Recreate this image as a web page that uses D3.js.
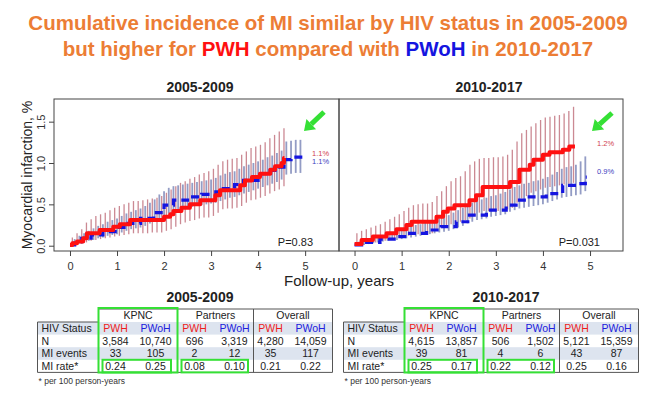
<!DOCTYPE html>
<html>
<head>
<meta charset="utf-8">
<script src="https://cdn.jsdelivr.net/npm/d3@7"></script>
<style>
  body { margin: 0; background: #fff; }
  svg { display: block; font-family: "Liberation Sans", Arial, sans-serif; }
</style>
</head>
<body>
<div id="chart"></div>
<script>
// ---- data ----
const years = [0, 1, 2, 3, 4, 5];
const yTicks = [0, 0.5, 1.0, 1.5];

// step curves (time in years, cumulative incidence %)
const pwh05T = [0, 0.05, 0.15, 0.28, 0.36, 0.63, 0.92, 1.06, 1.28, 2.0, 2.13, 2.2, 2.37, 2.55, 2.77, 3.09, 3.19, 3.62, 3.72, 3.87, 4.04, 4.26, 4.36, 4.5, 4.55, 4.56];
const pwh05V = [0.01, 0.03, 0.05, 0.09, 0.15, 0.19, 0.23, 0.26, 0.31, 0.35, 0.38, 0.42, 0.46, 0.50, 0.55, 0.61, 0.67, 0.73, 0.79, 0.83, 0.87, 0.92, 0.96, 1.00, 1.06, 1.06];
const pwoh05T = [0, 0.1, 0.25, 0.45, 0.7, 1.0, 1.2, 1.5, 1.78, 2.0, 2.2, 2.5, 2.8, 3.1, 3.26, 3.5, 3.69, 4.0, 4.2, 4.4, 4.55, 4.7, 4.98];
const pwoh05V = [0.01, 0.05, 0.09, 0.13, 0.17, 0.22, 0.27, 0.33, 0.40, 0.49, 0.55, 0.59, 0.62, 0.65, 0.69, 0.74, 0.79, 0.87, 0.91, 0.95, 1.04, 1.07, 1.07];
const pwh10T = [0, 0.15, 0.39, 0.68, 0.89, 1.10, 1.21, 1.74, 1.88, 1.98, 2.12, 2.44, 2.58, 2.72, 3.3, 3.5, 3.72, 3.8, 4.0, 4.14, 4.42, 4.56, 4.68];
const pwh10V = [0.02, 0.07, 0.11, 0.15, 0.20, 0.25, 0.29, 0.35, 0.41, 0.45, 0.49, 0.55, 0.61, 0.71, 0.77, 0.92, 0.98, 1.04, 1.10, 1.13, 1.16, 1.20, 1.20];
const pwoh10T = [0, 0.15, 0.54, 0.89, 1.17, 1.53, 1.84, 2.16, 2.44, 2.8, 3.22, 3.43, 3.71, 4.07, 4.42, 4.77, 4.9, 4.93];
const pwoh10V = [0.01, 0.04, 0.08, 0.11, 0.15, 0.19, 0.23, 0.29, 0.37, 0.43, 0.49, 0.55, 0.59, 0.63, 0.73, 0.75, 0.83, 0.83];

// confidence interval bars
const redBarT = [0.05,0.15,0.25,0.35,0.45,0.55,0.65,0.75,0.85,0.95,1.05,1.15,1.25,1.35,1.45,1.55,1.65,1.75,1.85,1.95,2.05,2.15,2.25,2.35,2.45,2.55,2.65,2.75,2.85,2.95,3.05,3.15,3.25,3.35,3.45,3.55,3.65,3.75,3.85,3.95,4.05,4.15,4.25,4.35,4.45,4.55,4.65];
const blueBarT = [0.1,0.2,0.3,0.4,0.5,0.6,0.7,0.8,0.9,1.0,1.1,1.2,1.3,1.4,1.5,1.6,1.7,1.8,1.9,2.0,2.1,2.2,2.3,2.4,2.5,2.6,2.7,2.8,2.9,3.0,3.1,3.2,3.3,3.4,3.5,3.6,3.7,3.8,3.9,4.0,4.1,4.2,4.3,4.4,4.5,4.6,4.7,4.8,4.9];

const pwh05Hi = [0.10,0.15,0.20,0.28,0.32,0.36,0.38,0.40,0.43,0.46,0.48,0.50,0.52,0.54,0.54,0.55,0.56,0.57,0.58,0.60,0.64,0.68,0.72,0.76,0.78,0.81,0.83,0.86,0.88,0.90,0.93,0.98,1.02,1.04,1.05,1.06,1.10,1.14,1.18,1.20,1.22,1.25,1.30,1.34,1.38,1.42];
const pwh05Lo = [0.00,0.01,0.02,0.04,0.06,0.07,0.08,0.09,0.10,0.11,0.12,0.13,0.14,0.15,0.15,0.15,0.15,0.16,0.16,0.16,0.18,0.20,0.23,0.26,0.28,0.30,0.31,0.33,0.34,0.34,0.36,0.40,0.44,0.45,0.45,0.46,0.48,0.52,0.55,0.56,0.58,0.60,0.63,0.66,0.68,0.72];
const pwoh05Hi = [0.08,0.12,0.15,0.18,0.21,0.24,0.26,0.29,0.31,0.33,0.36,0.39,0.41,0.43,0.45,0.48,0.52,0.56,0.62,0.66,0.70,0.72,0.73,0.74,0.75,0.76,0.77,0.78,0.79,0.80,0.82,0.85,0.87,0.89,0.90,0.93,0.96,0.98,1.00,1.02,1.04,1.07,1.09,1.12,1.15,1.26,1.27,1.28,1.28];
const pwoh05Lo = [0.01,0.03,0.04,0.06,0.07,0.09,0.10,0.12,0.13,0.14,0.16,0.18,0.20,0.21,0.22,0.24,0.27,0.30,0.33,0.36,0.39,0.42,0.44,0.45,0.46,0.47,0.48,0.49,0.50,0.51,0.52,0.54,0.56,0.58,0.59,0.61,0.63,0.65,0.67,0.69,0.71,0.73,0.75,0.77,0.80,0.86,0.87,0.88,0.88];
const pwh10Hi = [0.15,0.18,0.20,0.22,0.24,0.26,0.29,0.32,0.35,0.38,0.42,0.46,0.49,0.50,0.51,0.51,0.53,0.60,0.66,0.72,0.78,0.82,0.84,0.90,0.98,1.02,1.05,1.06,1.06,1.07,1.07,1.08,1.10,1.16,1.26,1.36,1.40,1.44,1.48,1.52,1.55,1.56,1.57,1.58,1.60,1.63,1.68];
const pwh10Lo = [0.00,0.01,0.02,0.03,0.04,0.05,0.06,0.07,0.08,0.10,0.11,0.12,0.13,0.14,0.14,0.14,0.15,0.18,0.21,0.24,0.26,0.28,0.29,0.31,0.33,0.36,0.40,0.42,0.42,0.42,0.42,0.43,0.44,0.46,0.52,0.57,0.60,0.64,0.66,0.68,0.70,0.71,0.72,0.73,0.74,0.75,0.76];
const pwoh10Hi = [0.05,0.07,0.08,0.10,0.11,0.13,0.14,0.16,0.17,0.19,0.21,0.23,0.25,0.26,0.28,0.30,0.31,0.33,0.35,0.37,0.40,0.43,0.46,0.49,0.52,0.54,0.56,0.58,0.60,0.61,0.63,0.65,0.68,0.71,0.73,0.75,0.76,0.78,0.79,0.81,0.83,0.86,0.89,0.93,0.95,0.96,0.98,1.02,1.08];
const pwoh10Lo = [0.00,0.01,0.02,0.03,0.04,0.05,0.06,0.07,0.07,0.08,0.09,0.10,0.11,0.12,0.13,0.14,0.15,0.16,0.17,0.18,0.20,0.22,0.24,0.27,0.29,0.31,0.32,0.33,0.35,0.36,0.37,0.38,0.41,0.43,0.45,0.46,0.47,0.48,0.49,0.50,0.52,0.54,0.56,0.58,0.59,0.60,0.61,0.62,0.66];

// tables
const groups = ['KPNC', 'Partners', 'Overall'];
const statusCols = ['PWH', 'PWoH'];
const rowLabels = ['HIV Status', 'N', 'MI events', 'MI rate*'];
const n0509 = ['3,584', '10,740', '696', '3,319', '4,280', '14,059'];
const events0509 = ['33', '105', '2', '12', '35', '117'];
const rate0509 = ['0.24', '0.25', '0.08', '0.10', '0.21', '0.22'];
const n1017 = ['4,615', '13,857', '506', '1,502', '5,121', '15,359'];
const events1017 = ['39', '81', '4', '6', '43', '87'];
const rate1017 = ['0.25', '0.17', '0.22', '0.12', '0.25', '0.16'];

// ---- drawing ----
const W = 650, H = 399;
const RED = '#ff1010', BLUE = '#1515e0', GREEN = '#35e035', ORANGE = '#ec7d35';
const svg = d3.select('#chart').append('svg').attr('width', W).attr('height', H);

// headline
const head = svg.append('g').attr('font-weight', 'bold').attr('font-size', 20.5)
  .attr('fill', ORANGE).attr('text-anchor', 'middle');
head.append('text').attr('x', 328).attr('y', 30)
  .text('Cumulative incidence of MI similar by HIV status in 2005-2009');
const l2 = head.append('text').attr('x', 328).attr('y', 56);
l2.append('tspan').text('but higher for ');
l2.append('tspan').attr('fill', RED).text('PWH');
l2.append('tspan').text(' compared with ');
l2.append('tspan').attr('fill', BLUE).text('PWoH');
l2.append('tspan').text(' in 2010-2017');

const plotTop = 99, plotBottom = 251;
const y = d3.scaleLinear().domain([-0.064, 1.774]).range([plotBottom, plotTop]);

function arrow(g, x1, y1, x2, y2) {
  const a = Math.atan2(y2 - y1, x2 - x1);
  const hl = 10, hw = 7;
  const bx = x2 - hl * Math.cos(a), by = y2 - hl * Math.sin(a);
  g.append('line').attr('x1', x1).attr('y1', y1).attr('x2', bx).attr('y2', by)
    .attr('stroke', GREEN).attr('stroke-width', 5);
  g.append('path').attr('fill', GREEN)
    .attr('d', `M${x2},${y2}L${bx + hw * Math.sin(a)},${by - hw * Math.cos(a)}L${bx - hw * Math.sin(a)},${by + hw * Math.cos(a)}Z`);
}

function drawPanel(p) {
  const x = d3.scaleLinear().domain(p.xDomain).range([p.left, p.right]);
  const g = svg.append('g');

  const bars = (lo, hi, times, color, w, op) => {
    g.append('g').selectAll('line')
      .data(hi.map((h, i) => ({ t: times[i], lo: lo[i], hi: h })))
      .enter().append('line')
      .attr('x1', d => x(d.t)).attr('x2', d => x(d.t))
      .attr('y1', d => y(d.lo)).attr('y2', d => y(d.hi))
      .attr('stroke', color).attr('stroke-width', w).attr('stroke-opacity', op);
  };
  bars(p.redLo, p.redHi, redBarT, '#a0283a', 1.3, 0.55);
  bars(p.blueLo, p.blueHi, blueBarT, '#283a8c', 1.8, 0.5);

  const line = d3.line().curve(d3.curveStepAfter).x(d => x(d[0])).y(d => y(d[1]));
  g.append('path').datum(p.blueT.map((t, i) => [t, p.blueV[i]]))
    .attr('d', line).attr('fill', 'none').attr('stroke', BLUE)
    .attr('stroke-width', 3.2).attr('stroke-dasharray', '8,5');
  g.append('path').datum(p.redT.map((t, i) => [t, p.redV[i]]))
    .attr('d', line).attr('fill', 'none').attr('stroke', RED)
    .attr('stroke-width', 4).attr('stroke-linejoin', 'round');

  g.append('rect').attr('x', p.left).attr('y', plotTop)
    .attr('width', p.right - p.left).attr('height', plotBottom - plotTop)
    .attr('fill', 'none').attr('stroke', '#444').attr('stroke-width', 1);

  const ax = g.append('g').attr('transform', `translate(0,${plotBottom})`)
    .call(d3.axisBottom(x).tickValues(years).tickFormat(d3.format('d')).tickSize(5).tickPadding(6));
  ax.select('.domain').remove();
  ax.selectAll('line').attr('stroke', '#444');
  ax.selectAll('text').attr('font-size', 11).attr('fill', '#333')
    .attr('font-family', '"Liberation Sans", Arial, sans-serif');

  if (p.yAxis) {
    const ay = g.append('g').attr('transform', `translate(${p.left},0)`)
      .call(d3.axisLeft(y).tickValues(yTicks).tickFormat(d3.format('.1f')).tickSize(5));
    ay.select('.domain').remove();
    ay.selectAll('line').attr('stroke', '#444');
    ay.selectAll('text').attr('font-size', 11).attr('fill', '#333')
      .attr('font-family', '"Liberation Sans", Arial, sans-serif')
      .attr('transform', 'rotate(-90)').attr('x', 0).attr('y', -9).attr('dy', 0)
      .attr('text-anchor', 'middle');
  }

  g.append('text').attr('x', p.titleX).attr('y', 92).attr('text-anchor', 'middle')
    .attr('font-weight', 'bold').attr('font-size', 14).attr('fill', '#222').text(p.title);
  g.append('text').attr('x', p.pX).attr('y', 246).attr('text-anchor', 'end')
    .attr('font-size', 11).attr('fill', '#222').text(p.pText);

  p.endLabels.forEach(l => {
    g.append('text').attr('x', l.x).attr('y', l.y).attr('font-size', 7.5)
      .attr('fill', l.c).text(l.t);
  });
  arrow(g, p.arrow[0], p.arrow[1], p.arrow[2], p.arrow[3]);
}

drawPanel({
  left: 54, right: 339, xDomain: [-0.34, 5.72], yAxis: true,
  title: '2005-2009', titleX: 200, pText: 'P=0.83', pX: 313,
  redT: pwh05T, redV: pwh05V, blueT: pwoh05T, blueV: pwoh05V,
  redLo: pwh05Lo, redHi: pwh05Hi, blueLo: pwoh05Lo, blueHi: pwoh05Hi,
  endLabels: [{ x: 312, y: 156, t: '1.1%', c: '#d04050' }, { x: 312, y: 164, t: '1.1%', c: '#4040c0' }],
  arrow: [324, 112, 304, 131]
});
drawPanel({
  left: 339, right: 623, xDomain: [-0.33, 5.7], yAxis: false,
  title: '2010-2017', titleX: 489, pText: 'P=0.031', pX: 600,
  redT: pwh10T, redV: pwh10V, blueT: pwoh10T, blueV: pwoh10V,
  redLo: pwh10Lo, redHi: pwh10Hi, blueLo: pwoh10Lo, blueHi: pwoh10Hi,
  endLabels: [{ x: 597, y: 146, t: '1.2%', c: '#d04050' }, { x: 597, y: 174, t: '0.9%', c: '#4040c0' }],
  arrow: [612, 113, 592, 131]
});

// axis titles
svg.append('text').attr('transform', 'translate(32,175) rotate(-90)')
  .attr('text-anchor', 'middle').attr('font-size', 14).attr('fill', '#222')
  .text('Myocardial infarction, %');
svg.append('text').attr('x', 339).attr('y', 286).attr('text-anchor', 'middle')
  .attr('font-size', 15).attr('fill', '#222').text('Follow-up, years');

// tables
function drawTable(x0, title, nVals, evVals, rateVals) {
  const g = svg.append('g').attr('font-size', 10.5).attr('fill', '#222');
  const labelW = 61, groupW = [79, 76, 79];
  const gx = [x0 + labelW];
  groupW.forEach((w, i) => gx.push(gx[i] + w));
  const right = gx[3];
  const rowTop = [309, 322, 334.6, 347.2, 359.8, 372.4];

  // shaded rows
  [1, 3].forEach(r => {
    g.append('rect').attr('x', x0).attr('y', rowTop[r]).attr('width', right - x0)
      .attr('height', rowTop[r + 1] - rowTop[r]).attr('fill', '#dde4ef');
  });

  const ln = (x1, y1, x2, y2) => g.append('line').attr('x1', x1).attr('y1', y1)
    .attr('x2', x2).attr('y2', y2).attr('stroke', '#555').attr('stroke-width', 1);
  ln(gx[0], rowTop[0], right, rowTop[0]);
  ln(x0, rowTop[1], gx[0], rowTop[1]);
  ln(x0, rowTop[5], right, rowTop[5]);
  ln(x0, rowTop[1], x0, rowTop[5]);
  ln(right, rowTop[0], right, rowTop[5]);
  [0, 1, 2].forEach(i => ln(gx[i], rowTop[0], gx[i], rowTop[5]));

  const mid = r => (rowTop[r] + rowTop[r + 1]) / 2 + 3.8;
  groups.forEach((gr, i) => {
    g.append('text').attr('x', (gx[i] + gx[i + 1]) / 2).attr('y', mid(0))
      .attr('text-anchor', 'middle').text(gr);
  });
  rowLabels.forEach((lab, r) => {
    g.append('text').attr('x', x0 + 4).attr('y', mid(r + 1)).text(lab);
  });
  const rows = [nVals, evVals, rateVals];
  groups.forEach((gr, i) => {
    statusCols.forEach((s, j) => {
      const cx = gx[i] + (j === 0 ? 17 : 57);
      g.append('text').attr('x', cx).attr('y', mid(1)).attr('text-anchor', 'middle')
        .attr('fill', j === 0 ? '#ee1c1c' : '#2020dd').text(s);
      rows.forEach((vals, r) => {
        g.append('text').attr('x', cx).attr('y', mid(r + 2)).attr('text-anchor', 'middle')
          .text(vals[i * 2 + j]);
      });
    });
  });

  // highlight boxes
  const box = (x1, y1, x2, y2) => g.append('rect').attr('x', x1).attr('y', y1)
    .attr('width', x2 - x1).attr('height', y2 - y1).attr('fill', 'none')
    .attr('stroke', GREEN).attr('stroke-width', 2);
  box(gx[0], 308, gx[1], 372.5);
  box(x0 + 65, 359.8, x0 + 133.5, 372.4);
  box(x0 + 144, 359.8, x0 + 210.5, 372.4);

  svg.append('text').attr('x', (gx[0] + gx[1]) / 2 + 62).attr('y', 302)
    .attr('text-anchor', 'middle').attr('font-weight', 'bold').attr('font-size', 14)
    .attr('fill', '#222').text(title);
  svg.append('text').attr('x', x0 + 1).attr('y', 384).attr('font-size', 8.5)
    .attr('fill', '#333').text('* per 100 person-years');
}
drawTable(37.5, '2005-2009', n0509, events0509, rate0509);
drawTable(343.5, '2010-2017', n1017, events1017, rate1017);
</script>
</body>
</html>
